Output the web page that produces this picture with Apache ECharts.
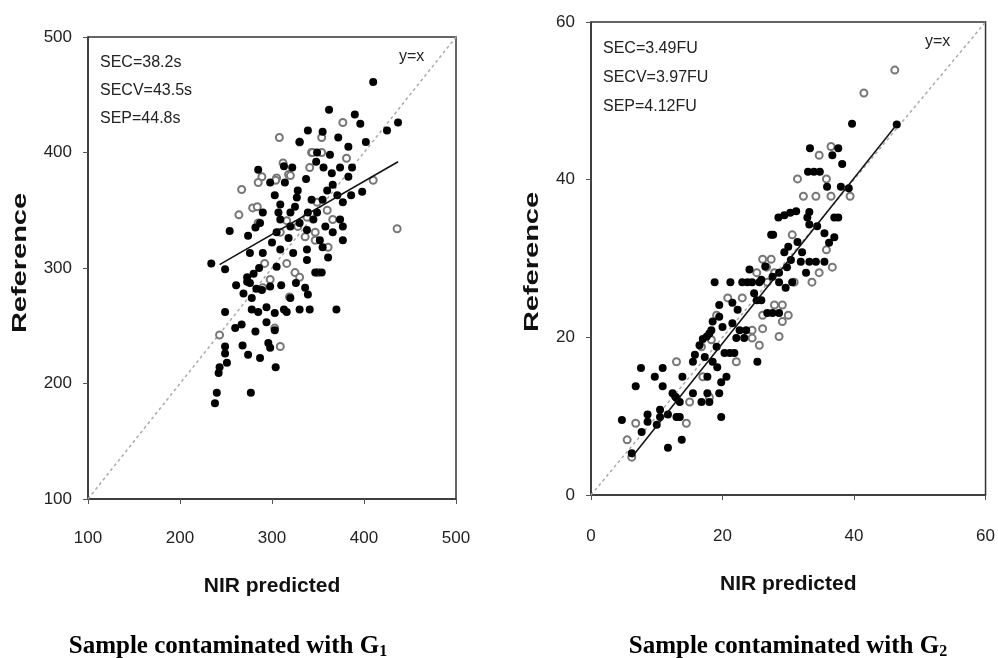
<!DOCTYPE html>
<html>
<head>
<meta charset="utf-8">
<script src="https://cdn.jsdelivr.net/npm/echarts@6/dist/echarts.min.js"></script>
<style>
  html, body { margin: 0; padding: 0; background: #fff; }
  #main { width: 998px; height: 658px; }
</style>
</head>
<body>
<div id="main"></div>
<script>
// G1 panel: [NIR predicted, Reference]
const g1Filled = [
  [410,461],[362,437],[390,433],[396,425],[437,426],[425,419],[402,409],[339,419],[355,418],[372,413],
  [383,405],[330,409],[363,398],[349,400],[348,392],[356,387],[365,382],[374,387],[383,379],[387,387],
  [322,387],[313,388],[285,385],[298,374],[314,374],[337,377],[328,367],[303,363],[309,355],[327,361],
  [360,367],[355,359],[377,357],[398,366],[386,363],[290,348],[254,332],[274,328],[309,342],[320,336],
  [330,339],[338,333],[358,336],[366,331],[377,324],[352,324],[361,309],[355,318],[338,316],[338,307],
  [323,313],[309,316],[300,322],[290,313],[286,300],[305,301],[276,313],[234,304],[249,299],[273,292],
  [276,287],[261,285],[298,284],[289,281],[278,274],[310,285],[326,287],[336,283],[339,277],[347,296],
  [354,296],[320,274],[313,264],[303,261],[294,266],[285,262],[278,264],[316,262],[330,264],[341,264],
  [370,264],[249,262],[260,248],[267,251],[282,245],[294,253],[303,246],[296,235],[298,231],[274,225],
  [268,233],[287,222],[249,232],[249,226],[243,214],[251,218],[242,209],[304,214],[240,192],[238,183],
  [277,192],[273,288],[269,278],[366,372],[371,363],[374,342],[377,336],[287,339],[282,335],[305,331],
  [307,348],[320,348],[325,353],[339,348],[349,348],[343,359],[280,295],[283,282],[318,326],[345,342]
];
const g1Open = [
  [308,413],[377,426],[354,413],[343,400],[354,400],[381,395],[312,391],[318,381],[341,387],[289,379],
  [285,374],[305,378],[267,368],[279,352],[284,353],[264,346],[285,339],[410,376],[436,334],[349,357],
  [360,350],[338,344],[316,341],[328,336],[347,331],[309,331],[366,342],[361,318],[347,324],[316,304],
  [325,296],[330,292],[292,304],[298,290],[290,283],[319,275],[303,248],[309,232],[243,242],[350,296],
  [336,327],[330,409],[344,400],[304,376],[320,380]
];
const g1Fit = [[243,303],[437,392]];
const g1Diag = [[100,100],[500,500]];

// G2 panel
const g2Filled = [
  [39.7,47.1],[33.3,44.0],[37.6,44.0],[36.7,43.1],[38.2,42.0],[33.0,41.0],[33.9,41.0],[34.8,41.0],[35.9,39.1],[38.0,39.1],
  [39.2,38.9],[28.5,35.2],[29.4,35.5],[30.3,35.8],[31.2,36.0],[33.2,35.9],[32.9,35.2],[33.2,34.3],[34.4,34.1],[37.0,35.2],
  [37.6,35.2],[35.5,33.2],[37.0,32.7],[36.2,32.0],[27.4,33.0],[27.7,33.0],[31.4,32.1],[32.1,30.8],[29.4,30.8],[30.4,29.8],
  [31.9,29.6],[33.2,29.6],[34.2,29.6],[35.5,29.6],[32.7,28.2],[29.8,28.9],[28.6,28.2],[30.6,27.0],[29.6,26.3],[27.6,27.7],
  [25.9,27.3],[24.1,28.6],[18.8,27.0],[21.2,27.0],[23.0,27.0],[23.8,27.0],[24.5,27.0],[25.6,27.0],[28.6,27.0],[24.8,25.6],
  [25.2,24.7],[25.9,24.7],[21.5,24.4],[22.3,23.5],[19.5,24.1],[26.8,23.1],[27.6,23.1],[28.6,23.1],[19.5,22.6],[18.5,22.0],
  [20.0,21.3],[21.5,21.8],[18.3,20.9],[22.6,20.9],[23.6,20.9],[22.1,19.9],[23.3,19.9],[17.6,20.1],[16.5,19.0],[19.1,18.8],
  [20.3,18.0],[21.1,18.0],[21.8,18.0],[15.8,17.8],[17.3,17.5],[15.5,16.9],[18.5,16.9],[19.2,16.2],[25.3,16.9],[17.7,15.0],
  [20.6,15.0],[19.8,14.3],[7.6,16.1],[10.9,16.1],[9.7,15.0],[6.8,13.8],[10.9,13.8],[13.9,15.0],[12.4,12.9],[13.0,12.3],
  [13.5,11.8],[15.5,12.9],[17.7,12.9],[19.5,12.9],[16.8,11.8],[18.0,11.8],[10.5,10.8],[8.6,10.2],[10.5,9.9],[11.7,10.2],
  [13.0,9.9],[13.5,9.9],[19.8,9.9],[4.7,9.5],[8.6,9.3],[7.7,8.0],[10.0,8.9],[11.7,6.0],[13.8,7.0],[6.2,5.3],
  [46.5,47.0],[17.0,19.8],[18.0,20.5],[12.8,12.5],[26.5,29.0],[30.0,31.5]
];
const g2Open = [
  [34.7,43.1],[36.5,44.2],[31.4,40.1],[35.8,40.1],[32.3,37.9],[34.2,37.9],[36.5,37.9],[39.4,37.9],[30.6,33.0],[35.8,31.1],
  [36.7,28.9],[34.7,28.2],[33.6,27.0],[30.9,27.0],[26.1,29.9],[27.4,29.9],[26.7,28.9],[27.9,28.2],[25.2,28.2],[26.8,27.0],
  [23.0,25.0],[20.8,25.0],[27.9,24.1],[29.1,24.1],[30.0,22.8],[26.1,22.8],[29.1,22.0],[24.5,20.9],[26.1,21.1],[25.6,19.0],
  [28.6,20.1],[24.5,19.9],[22.1,16.9],[19.1,22.8],[13.0,16.9],[17.0,15.0],[15.0,11.8],[18.0,12.4],[14.5,9.1],[6.8,9.1],
  [5.5,7.0],[6.2,4.8],[18.3,19.7],[16.8,18.8],[46.2,53.9],[41.5,51.0]
];
const g2Fit = [[6.2,4.8],[46.5,47.0]];
const g2Diag = [[0,0],[60,60]];

const chart = echarts.init(document.getElementById('main'));

const sans = '"Liberation Sans", Arial, sans-serif';
const axisCommon = {
  axisLine: { show: true, lineStyle: { color: '#333', width: 1.5 } },
  axisTick: { show: true, inside: false, length: 5, lineStyle: { color: '#555' } },
  splitLine: { show: false },
  axisLabel: { color: '#222', fontSize: 17, fontFamily: sans },
  nameTextStyle: { color: '#111', fontSize: 21, fontWeight: 'bold', fontFamily: sans },
  nameLocation: 'middle'
};

function dots(data, xi, open) {
  return {
    type: 'scatter', xAxisIndex: xi, yAxisIndex: xi, data: data,
    symbol: open ? 'emptyCircle' : 'circle',
    symbolSize: open ? 7 : 8,
    itemStyle: open ? { color: '#777', borderWidth: 1, opacity: 1 } : { color: '#000', opacity: 1 },
    silent: true, z: open ? 3 : 4
  };
}
function line(data, xi, dashed) {
  return {
    type: 'line', xAxisIndex: xi, yAxisIndex: xi, data: data, showSymbol: false, symbol: 'none',
    lineStyle: dashed ? { color: '#aaa', width: 1.5, type: [3, 3] } : { color: '#111', width: 1.5 },
    silent: true, z: dashed ? 2 : 5
  };
}

const textFont = '16px "Liberation Sans"';
const caption = (x, sub) => ({
  type: 'text', x: x, y: 647, style: {
    text: '{a|Sample contaminated with G}{s|' + sub + '}', align: 'center', verticalAlign: 'middle',
    rich: { a: { fontFamily: 'Liberation Serif', fontWeight: 'bold', fontSize: 25, fill: '#000' },
            s: { fontFamily: 'Liberation Serif', fontWeight: 'bold', fontSize: 16, fill: '#000', padding: [9, 0, 0, 0] } }
  }
});
const yName = (x, y) => ({
  type: 'text', x: x, y: y, rotation: Math.PI / 2, scaleX: 1.45,
  style: { text: 'Reference', align: 'center', verticalAlign: 'middle', font: 'bold 20px "Liberation Sans"', fill: '#111' }
});

const option = {
  animation: false,
  backgroundColor: '#fff',
  grid: [
    { left: 88, top: 37, width: 368, height: 462, show: true, borderColor: '#333', borderWidth: 1.5 },
    { left: 591, top: 22, width: 396, height: 473, show: true, borderColor: '#333', borderWidth: 1.5 }
  ],
  xAxis: [
    Object.assign({}, axisCommon, { gridIndex: 0, min: 100, max: 500, interval: 100, name: 'NIR predicted', nameGap: 77,
      axisLabel: Object.assign({}, axisCommon.axisLabel, { margin: 31 }) }),
    Object.assign({}, axisCommon, { gridIndex: 1, min: 0, max: 60, interval: 20, name: 'NIR predicted', nameGap: 79,
      axisLabel: Object.assign({}, axisCommon.axisLabel, { margin: 33 }) })
  ],
  yAxis: [
    Object.assign({}, axisCommon, { gridIndex: 0, min: 100, max: 500, interval: 100,
      axisLabel: Object.assign({}, axisCommon.axisLabel, { margin: 16 }) }),
    Object.assign({}, axisCommon, { gridIndex: 1, min: 0, max: 60, interval: 20,
      axisLabel: Object.assign({}, axisCommon.axisLabel, { margin: 16 }) })
  ],
  graphic: [
    { type: 'text', left: 100, top: 49, style: { text: 'SEC=38.2s\nSECV=43.5s\nSEP=44.8s', font: textFont, fill: '#222', lineHeight: 28 } },
    { type: 'text', left: 399, top: 49, style: { text: 'y=x', font: textFont, fill: '#222' } },
    { type: 'text', left: 603, top: 34, style: { text: 'SEC=3.49FU\nSECV=3.97FU\nSEP=4.12FU', font: textFont, fill: '#222', lineHeight: 29 } },
    { type: 'text', left: 925, top: 34, style: { text: 'y=x', font: textFont, fill: '#222' } },
    yName(20, 263),
    yName(532, 262),
    caption(228, '1'),
    caption(788, '2')
  ],
  series: [
    line(g1Diag, 0, true),
    dots(g1Open, 0, true),
    dots(g1Filled, 0, false),
    line(g1Fit, 0, false),
    line(g2Diag, 1, true),
    dots(g2Open, 1, true),
    dots(g2Filled, 1, false),
    line(g2Fit, 1, false)
  ]
};

chart.setOption(option);
</script>
</body>
</html>
